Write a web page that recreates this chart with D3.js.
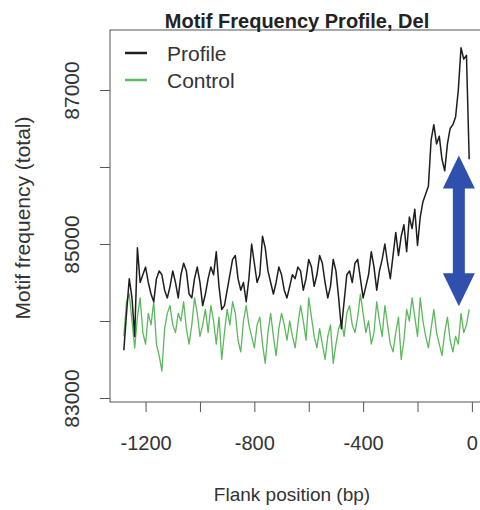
<!DOCTYPE html>
<html>
<head>
<meta charset="utf-8">
<script src="https://cdn.jsdelivr.net/npm/d3@7"></script>
<style>
  html, body { margin: 0; padding: 0; background: #fff; }
  svg { display: block; font-family: "Liberation Sans", Arial, sans-serif; }
</style>
</head>
<body>
<svg width="480" height="510"></svg>
<script>
var BOX = { left: 110, right: 483, top: 30, bottom: 402 };
var TICK_LENGTH = 10;

// flank positions, step 10 bp
var positions = d3.range(-1280, 0, 10);

var profile = [
  83620, 84100, 84550, 84300, 83800, 84950, 84500, 84600, 84700, 84500,
  84350, 84250, 84550, 84650, 84600, 84400, 84300, 84450, 84650, 84500,
  84300, 84600, 84750, 84650, 84350, 84300, 84550, 84700, 84500, 84200,
  84350, 84550, 84700, 84600, 84900, 84450, 84150, 84200, 84400, 84600,
  84800, 84850, 84550, 84400, 84500, 84250, 84550, 85000, 84750, 84500,
  84600, 85100, 84950, 84650, 84500, 84350, 84500, 84700, 84600, 84400,
  84300, 84450, 84600, 84550, 84700, 84650, 84400, 84550, 84800, 84700,
  84450, 84600, 84850, 84750, 84500, 84300, 84450, 84800, 84650, 84300,
  83900, 84250, 84600, 84650, 84500, 84750, 84800, 84550, 84300, 84450,
  84600, 84900, 84700, 84400, 84650, 84800, 85000, 84750, 84550, 84850,
  85150, 84850, 85100, 85250, 84900, 85350, 85200, 85450, 84980, 85350,
  85550, 85650, 85750, 86350, 86550, 86300, 86400, 86100, 85950, 86300,
  86500, 86550, 86650, 87000, 87550, 87400, 87450, 86100
];

var control = [
  83800, 84250, 84350, 84000, 83650, 84050, 84300, 83850, 83700, 84100,
  83950, 84250, 83700, 83550, 83350, 83900, 84100, 84200, 83950, 83850,
  84100, 84000, 84250, 83900, 83700, 83950, 84300, 84100, 83800, 83950,
  84150, 83850, 84200, 84000, 83700, 84050, 83500, 83850, 84150, 83950,
  84250, 84100, 83750, 83600, 84000, 84200, 83950, 83800, 83650, 83950,
  84050, 83700, 83450, 83850, 84100, 83800, 83550, 83900, 84100, 83950,
  83750, 84000, 83800, 83650, 83950, 84200, 84000, 83750, 84300, 84050,
  83800, 83650, 83900, 83700, 83500, 83800, 83950, 83450, 83700, 83900,
  84000, 83800, 84100, 84200, 83950, 83850, 84050, 84350, 84100, 83850,
  84000, 83700, 83850, 84250, 84000, 83800, 84200, 83950, 83700, 83600,
  83850, 84050, 83500, 83750, 84150, 84000, 84300, 84050, 83800, 84300,
  84000, 83800, 83650, 83900, 84150, 83850, 83700, 83550, 83850, 84050,
  83750, 83600, 83800, 83700, 84100, 83850, 83950, 84150
];

var xTicks = d3.range(-1200, 1, 200);
var xLabels = [-1200, -800, -400, 0];
var yTicks = d3.range(83000, 87001, 1000);
var yLabels = [83000, 85000, 87000];

var seriesNames = ['Profile', 'Control'];
var seriesColors = ['#1e1e1e', '#5cb85c'];

// double arrow annotation, in data units
var arrowX = -48;
var arrowTop = 86150;
var arrowBottom = 84190;

var svg = d3.select('svg');

var x = d3.scaleLinear().domain([-1330.8, 40.8]).range([BOX.left, BOX.right]);
var y = d3.scaleLinear().domain([82948, 87779]).range([BOX.bottom, BOX.top]);

var line = d3.line()
  .x(function (d) { return x(d[0]); })
  .y(function (d) { return y(d[1]); });

[control, profile].forEach(function (values, i) {
  var color = i === 0 ? seriesColors[1] : seriesColors[0];
  svg.append('path')
    .datum(d3.zip(positions, values))
    .attr('d', line)
    .style('fill', 'none')
    .style('stroke', color)
    .style('stroke-width', i === 0 ? 1.3 : 1.5)
    .style('stroke-linejoin', 'round');
});

// arrow
var ax = x(arrowX);
var at = y(arrowTop);
var ab = y(arrowBottom);
var head = 33, headW = 16, shaftW = 6;
svg.append('path')
  .attr('d', [
    'M', ax, at,
    'L', ax + headW, at + head,
    'L', ax + shaftW, at + head,
    'L', ax + shaftW, ab - head,
    'L', ax + headW, ab - head,
    'L', ax, ab,
    'L', ax - headW, ab - head,
    'L', ax - shaftW, ab - head,
    'L', ax - shaftW, at + head,
    'L', ax - headW, at + head,
    'Z'].join(' '))
  .style('fill', '#3050ad');

// box
svg.append('rect')
  .attr('x', BOX.left)
  .attr('y', BOX.top)
  .attr('width', BOX.right - BOX.left)
  .attr('height', BOX.bottom - BOX.top)
  .style('fill', 'none')
  .style('stroke', '#555')
  .style('stroke-width', 1);

// x axis
var xAxis = d3.axisBottom(x)
  .tickValues(xTicks)
  .tickSize(TICK_LENGTH)
  .tickFormat(function (d) { return xLabels.indexOf(d) >= 0 ? d : ''; });
var gx = svg.append('g')
  .attr('transform', 'translate(0,' + BOX.bottom + ')')
  .call(xAxis);
gx.select('.domain').remove();
gx.selectAll('line').style('stroke', '#555');
gx.selectAll('text')
  .attr('y', 48)
  .attr('dy', 0)
  .style('font-size', '20px')
  .style('fill', '#333');

// y axis
var yAxis = d3.axisLeft(y)
  .tickValues(yTicks)
  .tickSize(TICK_LENGTH)
  .tickFormat(function (d) { return yLabels.indexOf(d) >= 0 ? d : ''; });
var gy = svg.append('g')
  .attr('transform', 'translate(' + BOX.left + ',0)')
  .call(yAxis);
gy.select('.domain').remove();
gy.selectAll('line').style('stroke', '#555');
gy.selectAll('text')
  .attr('x', 0)
  .attr('dy', 0)
  .attr('transform', 'translate(-31,0) rotate(-90)')
  .style('text-anchor', 'middle')
  .style('font-size', '21px')
  .style('fill', '#333');

// titles
svg.append('text')
  .attr('x', 297)
  .attr('y', 28)
  .style('text-anchor', 'middle')
  .style('font-weight', 'bold')
  .style('font-size', '20px')
  .style('fill', '#222')
  .text('Motif Frequency Profile, Del');

svg.append('text')
  .attr('x', (BOX.left + 472) / 2 + 1)
  .attr('y', 501)
  .style('text-anchor', 'middle')
  .style('font-size', '19px')
  .style('fill', '#333')
  .text('Flank position (bp)');

svg.append('text')
  .attr('transform', 'translate(30,218) rotate(-90)')
  .style('text-anchor', 'middle')
  .style('font-size', '21px')
  .style('fill', '#333')
  .text('Motif frequency (total)');

// legend
seriesNames.forEach(function (name, i) {
  var ly = 53 + i * 27;
  svg.append('line')
    .attr('x1', 125).attr('x2', 147)
    .attr('y1', ly).attr('y2', ly)
    .style('stroke', seriesColors[i])
    .style('stroke-width', 2.5);
  svg.append('text')
    .attr('x', 167)
    .attr('y', ly + 8)
    .style('font-size', '21px')
    .style('fill', '#333')
    .text(name);
});
</script>
</body>
</html>
